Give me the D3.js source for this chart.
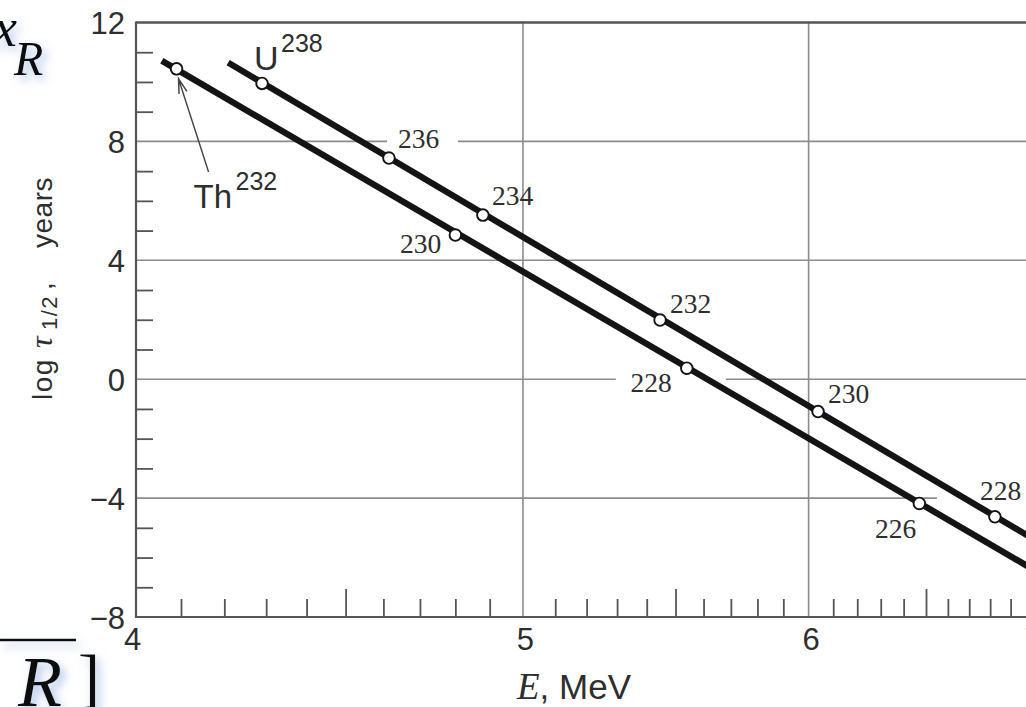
<!DOCTYPE html>
<html><head><meta charset="utf-8">
<script src="https://cdn.jsdelivr.net/npm/d3@7"></script>
<style>
html,body{margin:0;padding:0;background:#fff;}
svg{display:block;}
</style>
</head><body>
<svg id="chart" width="1026" height="707"></svg>
<script>
// ---------------- data ----------------
const thNames  = ["232", "230", "228", "226"];
const thEnergy = [4.09, 4.80, 5.54, 6.47];        // MeV
const thLogT   = [10.44, 4.85, 0.37, -4.18];       // log10 half-life, years

const uNames   = ["238", "236", "234", "232", "230", "228"];
const uEnergy  = [4.29, 4.615, 4.88, 5.446, 6.038, 6.823];
const uLogT    = [9.95, 7.44, 5.52, 1.99, -1.09, -4.63];

// drawn straight fit lines (end points)
const thLineE = [4.057, 7.0];
const thLineT = [10.71, -6.35];
const uLineE  = [4.209, 7.0];
const uLineT  = [10.65, -5.32];

const xTickValues  = [4, 5, 6, 7];
const xTickLabels  = ["4", "5", "6", "7"];
const xGridValues  = [5, 6];
const xMinorShort  = [4.1,4.2,4.3,4.4,4.6,4.7,4.8,4.9,5.1,5.2,5.3,5.4,5.6,5.7,5.8,5.9,6.1,6.2,6.3,6.4,6.6,6.7,6.8,6.9];
const xMinorLong   = [4.5, 5.5, 6.5];
const yTickValues  = [12, 8, 4, 0, -4, -8];
const yTickLabels  = ["12", "8", "4", "0", "\u22124", "\u22128"];
const yGridValues  = [8, 4, 0, -4];
const yMinorTicks  = [11,10,9,7,6,5,3,2,1,-1,-2,-3,-5,-6,-7];

// ---------------- layout / style ----------------
const W = 1026, H = 707;
const svg = d3.select("#chart");
const x = d3.scalePow().exponent(-0.5).domain([4, 7]).range([136, 1030.6]);
const y = d3.scaleLinear().domain([-8, 12]).range([617, 22.5]);

const INK = "#141414", TXT = "#2e2e2e", AXC = "#555", GRID = "#8c8c8c";
const SANS = "'Liberation Sans', Arial, Helvetica, sans-serif";
const SERIF = "'Liberation Serif', 'Times New Roman', serif";

// label placement (pixel offsets from the point)
const thLabelPos = [null,
  {dx:-14, dy:18, anchor:"end"},
  {dx:-15, dy:24, anchor:"end", gap:[-71, 39], grid:0},
  {dx:-3,  dy:35, anchor:"end"}];
const uLabelPos = [null,
  {dx:9,  dy:-10, anchor:"start", gap:[-2, 69], grid:8},
  {dx:9,  dy:-10, anchor:"start"},
  {dx:10, dy:-7,  anchor:"start"},
  {dx:10, dy:-9,  anchor:"start"},
  {dx:-15,dy:-17, anchor:"start", gap:[-58, 45], grid:-4}];

// ---------------- defs ----------------
const defs = svg.append("defs");
const f = defs.append("filter").attr("id","glow")
  .attr("x","-60%").attr("y","-60%").attr("width","220%").attr("height","220%");
f.append("feGaussianBlur").attr("in","SourceAlpha").attr("stdDeviation",5).attr("result","b");
f.append("feOffset").attr("in","b").attr("dx",4).attr("dy",5).attr("result","o");
f.append("feFlood").attr("flood-color","#6a8cd0").attr("flood-opacity",0.55).attr("result","c");
f.append("feComposite").attr("in","c").attr("in2","o").attr("operator","in").attr("result","s");
const mg = f.append("feMerge");
mg.append("feMergeNode").attr("in","s");
mg.append("feMergeNode").attr("in","SourceGraphic");

svg.append("rect").attr("width",W).attr("height",H).attr("fill","#fff");

// ---------------- grid ----------------
const grid = svg.append("g");
grid.selectAll("line.h").data(yGridValues).join("line").attr("class","h")
  .attr("x1", x(4)).attr("x2", W).attr("y1", d=>y(d)).attr("y2", d=>y(d))
  .attr("stroke", GRID).attr("stroke-width", 1.6);
grid.selectAll("line.v").data(xGridValues).join("line").attr("class","v")
  .attr("x1", d=>x(d)).attr("x2", d=>x(d)).attr("y1", y(12)).attr("y2", y(-8))
  .attr("stroke", GRID).attr("stroke-width", 1.6);

// gaps in gridlines behind some labels
function gapRects(names, E, T, pos) {
  names.forEach((n,i) => {
    const p = pos[i];
    if (!p || !p.gap) return;
    const px = x(E[i]);
    grid.append("rect").attr("x", px + p.gap[0]).attr("width", p.gap[1]-p.gap[0])
      .attr("y", y(p.grid)-3).attr("height", 6).attr("fill","#fff");
  });
}
gapRects(thNames, thEnergy, thLogT, thLabelPos);
gapRects(uNames, uEnergy, uLogT, uLabelPos);

// ---------------- frame / axes ----------------
svg.append("line").attr("x1", x(4)).attr("x2", W).attr("y1", y(12)).attr("y2", y(12))
  .attr("stroke", AXC).attr("stroke-width", 2.6);
svg.append("line").attr("x1", x(4)).attr("x2", x(4)).attr("y1", y(12)-1).attr("y2", y(-8)+1)
  .attr("stroke", AXC).attr("stroke-width", 2.2);
svg.append("line").attr("x1", x(4)-1).attr("x2", W).attr("y1", y(-8)).attr("y2", y(-8))
  .attr("stroke", AXC).attr("stroke-width", 2.2);

function clean(g){ g.select(".domain").remove(); g.selectAll("line").attr("stroke", AXC).attr("stroke-width",1.8); g.selectAll("text").remove(); }

svg.append("g").attr("transform", `translate(${x(4)},0)`)
  .call(d3.axisRight(y).tickValues(yMinorTicks).tickSize(17)).call(clean);
svg.append("g").attr("transform", `translate(0,${y(-8)})`)
  .call(d3.axisTop(x).tickValues(xMinorShort).tickSize(18)).call(clean);
svg.append("g").attr("transform", `translate(0,${y(-8)})`)
  .call(d3.axisTop(x).tickValues(xMinorLong).tickSize(28)).call(clean);

// tick labels
const yAx = svg.append("g").attr("transform", `translate(${x(4)},0)`)
  .call(d3.axisLeft(y).tickValues(yTickValues).tickSize(0).tickPadding(11)
    .tickFormat((d,i)=>yTickLabels[i]));
yAx.select(".domain").remove();
yAx.selectAll("text").attr("font-family", SANS).attr("font-size", 31).attr("fill", TXT)
  .attr("dy", "0.36em");

const xAx = svg.append("g").attr("transform", `translate(0,${y(-8)})`)
  .call(d3.axisBottom(x).tickValues(xTickValues).tickSize(0).tickPadding(9)
    .tickFormat((d,i)=>xTickLabels[i]));
xAx.select(".domain").remove();
xAx.selectAll("text").attr("font-family", SANS).attr("font-size", 31).attr("fill", TXT)
  .attr("dy", "0.78em");
xAx.selectAll(".tick").filter(d=>d===4).select("text").attr("dx", -4);
xAx.selectAll(".tick").filter(d=>d!==4).select("text").attr("dx", 2);

// axis titles
const yTitle = svg.append("text").attr("transform", "translate(52,400) rotate(-90)")
  .attr("font-family", SANS).attr("font-size", 28).attr("fill", TXT);
yTitle.append("tspan").attr("x", 0).attr("y", 0).attr("letter-spacing", 1.5).text("log");
yTitle.append("tspan").attr("x", 52).attr("y", 0).attr("font-family", SERIF)
  .attr("font-style","italic").attr("font-size", 32).text("\u03C4");
yTitle.append("tspan").attr("x", 70).attr("y", 5).attr("font-size", 22).attr("letter-spacing", 1.5).text("1/2");
yTitle.append("tspan").attr("x", 110).attr("y", 0).text(",");
yTitle.append("tspan").attr("x", 152).attr("y", 0).attr("letter-spacing", 0.5).text("years");

const xTitle = svg.append("text").attr("x", 517).attr("y", 699)
  .attr("font-family", SANS).attr("font-size", 35).attr("fill", TXT);
xTitle.append("tspan").attr("font-family", SERIF).attr("font-style","italic").attr("font-size", 37).text("E");
xTitle.append("tspan").text(", MeV");

// ---------------- series ----------------
const line = d3.line().x(d=>x(d[0])).y(d=>y(d[1]));
svg.append("path").datum(thLineE.map((e,i)=>[e, thLineT[i]])).attr("d", line)
  .attr("fill","none").attr("stroke", INK).attr("stroke-width", 6.3);
svg.append("path").datum(uLineE.map((e,i)=>[e, uLineT[i]])).attr("d", line)
  .attr("fill","none").attr("stroke", INK).attr("stroke-width", 6.3);

function points(E, T) {
  svg.append("g").selectAll("circle").data(E.map((e,i)=>[e,T[i]])).join("circle")
    .attr("cx", d=>x(d[0])).attr("cy", d=>y(d[1])).attr("r", 5.8)
    .attr("fill","#fff").attr("stroke", INK).attr("stroke-width", 1.9);
}
points(thEnergy, thLogT);
points(uEnergy, uLogT);

function numLabels(names, E, T, pos) {
  names.forEach((n,i)=>{
    const p = pos[i]; if (!p) return;
    svg.append("text").attr("x", x(E[i]) + p.dx).attr("y", y(T[i]) + p.dy)
      .attr("text-anchor", p.anchor).attr("font-family", SERIF).attr("font-size", 27.5)
      .attr("fill", TXT).text(n);
  });
}
numLabels(thNames, thEnergy, thLogT, thLabelPos);
numLabels(uNames, uEnergy, uLogT, uLabelPos);

// element labels
const ux = x(uEnergy[0]), uy = y(uLogT[0]);
svg.append("text").attr("x", ux-8).attr("y", uy-13).attr("font-family", SANS)
  .attr("font-size", 34).attr("fill", TXT).text("U");
svg.append("text").attr("x", ux+19).attr("y", uy-31).attr("font-family", SANS)
  .attr("font-size", 25).attr("fill", TXT).text(uNames[0]);

const tx = x(thEnergy[0]), ty = y(thLogT[0]);
svg.append("text").attr("x", tx+17).attr("y", ty+139).attr("font-family", SANS)
  .attr("font-size", 33).attr("fill", TXT).text("Th");
svg.append("text").attr("x", tx+59).attr("y", ty+121).attr("font-family", SANS)
  .attr("font-size", 25).attr("fill", TXT).text(thNames[0]);

// arrow to Th232
const tip = [tx+2, ty+10], tail = [tx+32, ty+103];
const ang = Math.atan2(tail[1]-tip[1], tail[0]-tip[0]);
const barb = 15, spread = 0.28;
const b1 = [tip[0]+barb*Math.cos(ang+spread), tip[1]+barb*Math.sin(ang+spread)];
const b2 = [tip[0]+barb*Math.cos(ang-spread), tip[1]+barb*Math.sin(ang-spread)];
svg.append("path").attr("d", `M${tail[0]},${tail[1]}L${tip[0]},${tip[1]}M${b1[0]},${b1[1]}L${tip[0]},${tip[1]}L${b2[0]},${b2[1]}`)
  .attr("fill","none").attr("stroke","#444").attr("stroke-width",1.5);

// ---------------- slide fragments at the left edge ----------------
const frag = svg.append("g").attr("filter","url(#glow)").attr("fill","#111");
frag.append("text").attr("x", -7).attr("y", 46).attr("font-family", SERIF)
  .attr("font-style","italic").attr("font-size", 54).text("x");
frag.append("text").attr("x", 14).attr("y", 75).attr("font-family", SERIF)
  .attr("font-style","italic").attr("font-size", 48).text("R");
frag.append("line").attr("x1", 0).attr("x2", 76).attr("y1", 640).attr("y2", 640)
  .attr("stroke","#111").attr("stroke-width", 2.5);
frag.append("text").attr("x", 18).attr("y", 706).attr("font-family", SERIF)
  .attr("font-style","italic").attr("font-size", 72).text("R");
frag.append("text").attr("x", 78).attr("y", 700).attr("font-family", SERIF)
  .attr("font-size", 66).text("]");
</script>
</body></html>
